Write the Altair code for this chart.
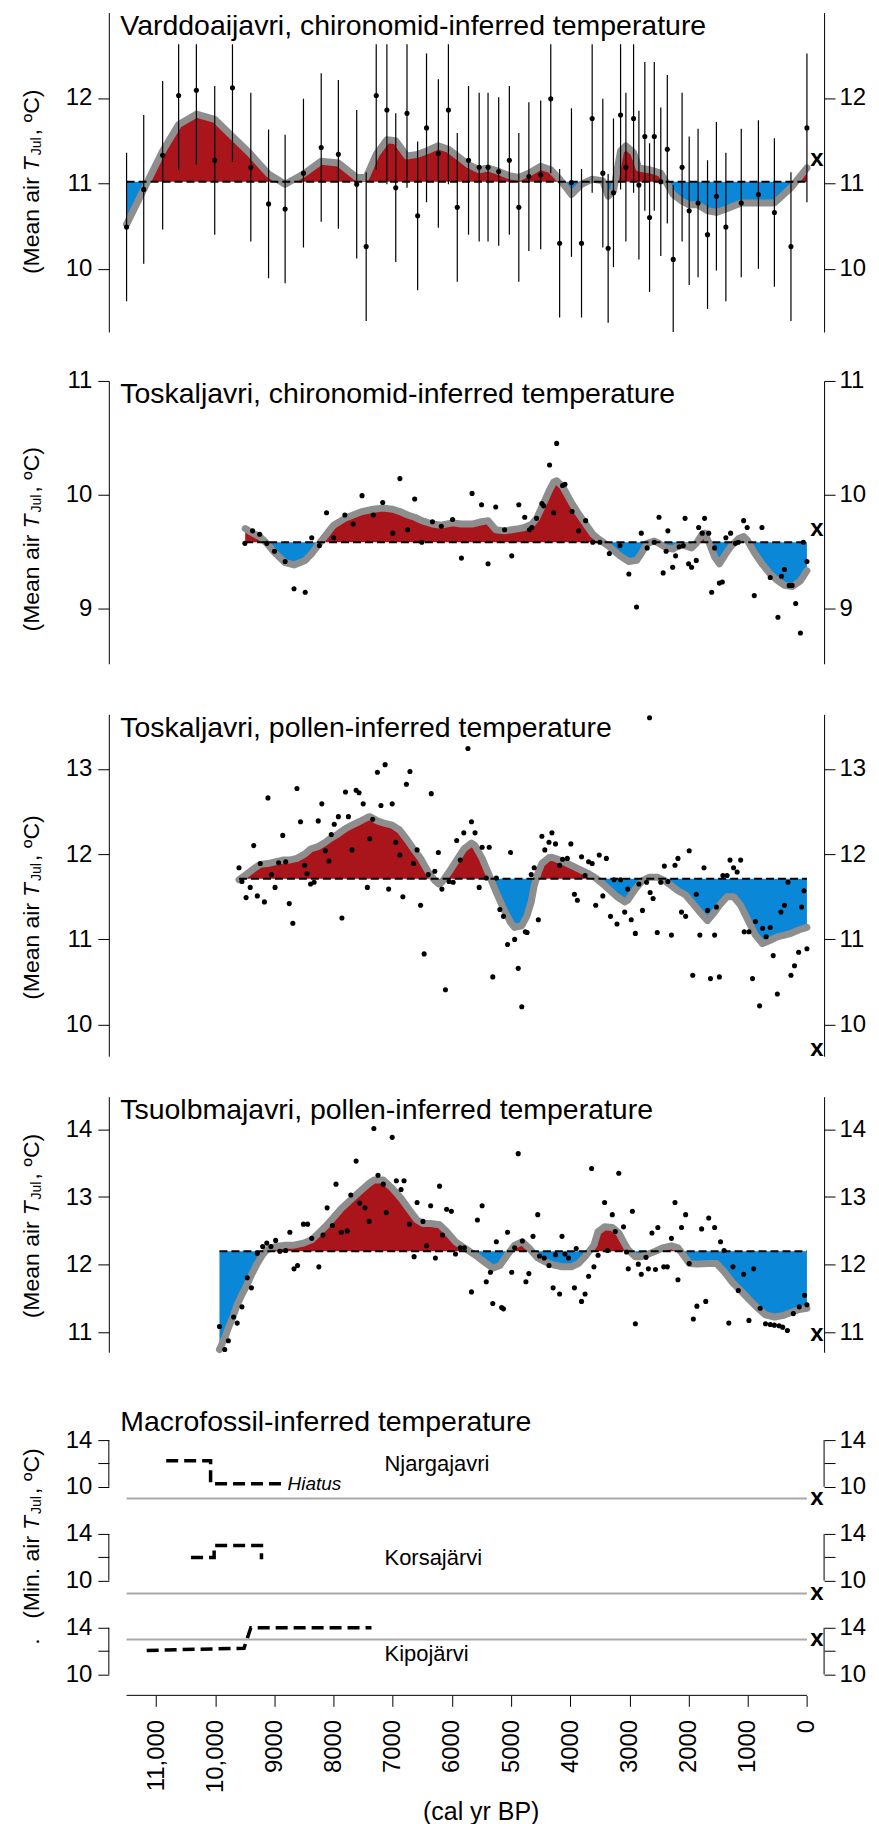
import altair as alt
import pandas as pd

FONT = "Liberation Sans, Arial, Helvetica, sans-serif"
RED = "#aa141b"
BLUE = "#0b87d8"
GRAY = "#8e8e8e"
LIGHTGRAY = "#a8a8a8"
W = 716.5
X_DOMAIN = [11800, -290]

# ---------------- Panel 1: Varddoaijavri chironomids ----------------
VARD_YEARS = [11500, 11210, 10890, 10620, 10320, 10010, 9710, 9400, 9100, 8820,
              8510, 8210, 7920, 7610, 7450, 7280, 7100, 6950, 6760, 6580,
              6430, 6230, 6060, 5910, 5720, 5540, 5390, 5210, 5030, 4870,
              4700, 4500, 4330, 4180, 3980, 3810, 3630, 3450, 3360, 3270,
              3150, 3060, 2930, 2840, 2740, 2660, 2580, 2470, 2360, 2260,
              2110, 1990, 1840, 1680, 1530, 1370, 1110, 820, 550, 270, 0]
VARD_TEMPS = [10.49, 10.93, 11.33, 12.03, 12.09, 11.27, 12.12, 11.19, 10.76, 10.70,
              11.12, 11.42, 11.34, 10.99, 10.26, 12.03, 11.86, 10.95, 11.82, 10.62,
              11.65, 11.35, 11.86, 10.72, 11.27, 11.19, 11.19, 11.14, 11.27, 10.72,
              11.08, 11.10, 11.99, 10.30, 11.01, 10.30, 11.76, 11.12, 10.24, 10.89,
              11.80, 11.19, 11.76, 10.98, 11.55, 10.60, 11.55, 11.02, 11.40, 10.11,
              11.19, 10.68, 10.77, 10.40, 10.85, 10.49, 10.77, 10.87, 10.66, 10.26, 11.65]
VARD_ERR = 0.87
VARD_ERR_TOP = 12.63
VARD_CURVE_YEARS = [11500, 11210, 10890, 10620, 10320, 10010, 9710, 9400, 9100, 8820,
                    8510, 8210, 7920, 7610, 7450, 7280, 7100, 6950, 6760, 6580,
                    6430, 6230, 6060, 5910, 5720, 5540, 5390, 5210, 5030, 4870,
                    4700, 4500, 4330, 4180, 3980, 3810, 3630, 3450, 3360, 3270,
                    3150, 3060, 2930, 2840, 2660, 2470, 2360, 2260, 2110, 1990,
                    1840, 1680, 1530, 1370, 1110, 820, 550, 270, 0]
VARD_CURVE_TEMPS = [10.52, 10.93, 11.38, 11.69, 11.81, 11.75, 11.55, 11.34, 11.11, 10.99,
                    11.11, 11.26, 11.24, 11.07, 11.07, 11.34, 11.51, 11.50, 11.32, 11.34,
                    11.38, 11.44, 11.40, 11.32, 11.22, 11.16, 11.18, 11.14, 11.09, 11.07,
                    11.12, 11.20, 11.16, 11.05, 10.87, 10.99, 11.05, 11.03, 10.85, 10.91,
                    11.38, 11.44, 11.36, 11.18, 11.16, 11.12, 10.99, 10.87, 10.79, 10.75,
                    10.75, 10.68, 10.66, 10.70, 10.77, 10.77, 10.77, 10.95, 11.18]
VARD_BASE = 11.02
VARD_MODERN = 11.28

# ---------------- Panel 2: Toskaljavri chironomids ----------------
TOSC_YEARS = [9500, 9370, 9250, 9130, 9000, 8820, 8670, 8480, 8370, 8240,
              8120, 8000, 7810, 7670, 7520, 7330, 7170, 7000, 6880, 6750,
              6630, 6510, 6330, 6180, 5990, 5840, 5660, 5500, 5390, 5260,
              5110, 4990, 4870, 4770, 4690, 4650, 4570, 4480, 4450, 4350,
              4280, 4230, 4130, 4090, 3970, 3860, 3740, 3620, 3500, 3340,
              3160, 3010, 2880, 2800, 2700, 2580, 2500, 2430, 2380, 2350,
              2270, 2220, 2160, 2090, 2060, 2000, 1950, 1870, 1830, 1770,
              1730, 1660, 1610, 1560, 1480, 1430, 1370, 1290, 1210, 1160,
              1070, 1010, 890, 760, 620, 490, 430, 380, 300, 250,
              190, 110, 60, 0]
TOSC_TEMPS = [9.57, 9.68, 9.65, 9.57, 9.50, 9.41, 9.17, 9.14, 9.62, 9.55,
              9.84, 9.62, 9.82, 9.74, 9.99, 9.82, 9.93, 9.66, 10.14, 9.69,
              9.96, 9.58, 9.76, 9.72, 9.78, 9.44, 10.01, 9.91, 9.39, 9.89,
              9.69, 9.46, 9.91, 9.80, 9.69, 9.71, 9.79, 9.92, 9.90, 10.26,
              9.84, 10.45, 10.08, 10.09, 9.85, 9.68, 9.77, 9.58, 9.58, 9.48,
              9.55, 9.30, 9.01, 9.66, 9.53, 9.58, 9.80, 9.31, 9.50, 9.68,
              9.36, 9.46, 9.54, 9.55, 9.79, 9.39, 9.36, 9.42, 9.71, 9.66,
              9.79, 9.66, 9.14, 9.53, 9.22, 9.23, 9.62, 9.66, 9.57, 9.58,
              9.77, 9.71, 9.11, 9.71, 9.27, 8.92, 9.28, 9.34, 9.20, 9.20,
              9.04, 8.78, 9.58, 9.41]
TOSC_CURVE_YEARS = [9495, 9370, 9250, 9130, 9000, 8820, 8670, 8480, 8370, 8240,
                    8120, 8000, 7810, 7670, 7520, 7330, 7170, 7000, 6880, 6750,
                    6630, 6510, 6330, 6180, 5990, 5840, 5660, 5500, 5390, 5260,
                    5110, 4990, 4870, 4770, 4650, 4570, 4480, 4350, 4280, 4230,
                    4130, 3970, 3860, 3740, 3620, 3500, 3340, 3160, 3010, 2880,
                    2800, 2700, 2580, 2500, 2380, 2270, 2160, 2060, 1950, 1870,
                    1770, 1730, 1650, 1560, 1480, 1370, 1290, 1160, 1070, 1010,
                    890, 760, 620, 490, 380, 250, 110, 0]
TOSC_CURVE_TEMPS = [9.70, 9.66, 9.63, 9.57, 9.49, 9.40, 9.38, 9.42, 9.48, 9.57,
                    9.65, 9.73, 9.79, 9.82, 9.85, 9.87, 9.88, 9.87, 9.85, 9.82,
                    9.80, 9.77, 9.74, 9.73, 9.75, 9.74, 9.74, 9.76, 9.77, 9.69,
                    9.68, 9.69, 9.70, 9.71, 9.74, 9.79, 9.89, 10.04, 10.11, 10.12,
                    10.07, 9.92, 9.83, 9.74, 9.65, 9.60, 9.54, 9.46, 9.41, 9.42,
                    9.48, 9.57, 9.59, 9.57, 9.53, 9.52, 9.55, 9.55, 9.53, 9.57,
                    9.65, 9.66, 9.57, 9.45, 9.39, 9.48, 9.54, 9.61, 9.63, 9.60,
                    9.49, 9.39, 9.30, 9.24, 9.20, 9.19, 9.24, 9.33]
TOSC_BASE = 9.58
TOSC_MODERN = 9.70

# ---------------- Panel 3: Toskaljavri pollen ----------------
TOSP_YEARS = [9600, 9550, 9480, 9410, 9350, 9290, 9240, 9170, 9110, 9050,
              8990, 8930, 8860, 8810, 8750, 8690, 8620, 8560, 8490, 8450,
              8390, 8330, 8260, 8200, 8140, 8080, 8040, 7990, 7920, 7860,
              7800, 7750, 7690, 7620, 7570, 7500, 7430, 7390, 7340, 7260,
              7200, 7130, 7070, 7010, 6950, 6880, 6830, 6770, 6710, 6650,
              6590, 6530, 6470, 6400, 6350, 6290, 6230, 6170, 6110, 6050,
              5980, 5920, 5860, 5800, 5730, 5670, 5610, 5540, 5490, 5420,
              5370, 5310, 5250, 5190, 5130, 5060, 5010, 4940, 4880, 4820,
              4760, 4730, 4660, 4610, 4540, 4480, 4430, 4360, 4310, 4250,
              4180, 4130, 4050, 3990, 3930, 3880, 3810, 3750, 3690, 3630,
              3570, 3510, 3450, 3390, 3320, 3260, 3210, 3150, 3080, 3030,
              2970, 2900, 2840, 2780, 2710, 2660, 2650, 2600, 2530, 2470,
              2410, 2350, 2290, 2230, 2180, 2120, 2050, 1990, 1930, 1870,
              1810, 1740, 1680, 1630, 1560, 1530, 1480, 1420, 1350, 1300,
              1240, 1180, 1120, 1060, 980, 920, 870, 800, 750, 690,
              620, 570, 500, 440, 380, 320, 270, 210, 140, 90,
              50, 0]
TOSP_TEMPS = [11.84, 11.68, 11.49, 11.61, 12.10, 11.51, 11.89, 11.44, 12.66, 11.76,
              11.61, 11.90, 12.22, 11.91, 11.42, 11.19, 12.77, 12.38, 11.87, 11.77,
              11.65, 11.67, 12.39, 12.59, 12.04, 11.92, 12.23, 12.35, 12.44, 11.25,
              12.73, 12.44, 12.05, 12.75, 12.72, 12.59, 11.61, 12.18, 12.41, 12.96,
              12.57, 13.05, 11.59, 12.59, 12.14, 11.99, 11.50, 12.82, 12.97, 11.89,
              12.05, 11.40, 10.83, 11.76, 12.71, 11.80, 12.02, 11.59, 10.41, 11.68,
              11.67, 12.16, 11.93, 12.25, 13.24, 12.38, 12.25, 11.61, 12.08, 11.72,
              12.08, 10.56, 11.72, 11.35, 11.27, 10.94, 12.02, 11.00, 10.66, 10.21,
              11.09, 11.08, 11.76, 11.84, 11.23, 12.21, 12.05, 12.14, 12.25, 12.12,
              11.87, 11.94, 11.95, 12.12, 11.53, 11.46, 11.97, 11.75, 11.91, 11.89,
              11.40, 11.99, 11.51, 11.95, 11.27, 11.70, 11.18, 11.70, 11.32, 11.59,
              11.23, 11.07, 11.65, 11.34, 11.67, 13.60, 11.55, 11.48, 11.08, 11.67,
              11.86, 11.68, 11.05, 11.87, 11.95, 11.32, 11.27, 12.04, 10.58, 11.53,
              11.05, 11.84, 11.34, 10.54, 11.05, 11.38, 10.56, 11.75, 11.75, 11.93,
              11.84, 11.79, 11.93, 11.09, 11.09, 10.54, 11.21, 10.22, 11.13, 11.03,
              11.14, 10.81, 10.36, 11.32, 11.40, 11.67, 10.58, 10.69, 10.85, 11.38,
              11.57, 10.89]
TOSP_CURVE_YEARS = [9600, 9480, 9350, 9240, 9110, 8990, 8860, 8750, 8620, 8490,
                    8390, 8260, 8140, 8040, 7920, 7800, 7690, 7570, 7430, 7390,
                    7260, 7130, 7010, 6880, 6770, 6650, 6530, 6400, 6290, 6220,
                    6170, 6050, 5920, 5800, 5670, 5610, 5490, 5370, 5250, 5130,
                    5010, 4940, 4820, 4730, 4660, 4610, 4540, 4480, 4360, 4300,
                    4180, 4050, 3930, 3810, 3690, 3570, 3450, 3320, 3210, 3080,
                    3030, 2900, 2780, 2660, 2530, 2410, 2290, 2180, 2050, 1930,
                    1810, 1680, 1560, 1480, 1350, 1240, 1120, 980, 870, 750,
                    620, 500, 380, 270, 140, 0]
TOSP_CURVE_TEMPS = [11.70, 11.76, 11.83, 11.88, 11.89, 11.91, 11.93, 11.93, 11.95, 12.00,
                    12.06, 12.09, 12.14, 12.19, 12.24, 12.30, 12.34, 12.38, 12.43, 12.44,
                    12.39, 12.36, 12.34, 12.28, 12.18, 12.06, 11.95, 11.79, 11.69, 11.65,
                    11.67, 11.79, 11.93, 12.06, 12.13, 12.10, 11.95, 11.75, 11.55, 11.36,
                    11.20, 11.14, 11.16, 11.28, 11.44, 11.63, 11.79, 11.89, 11.96, 11.96,
                    11.93, 11.89, 11.85, 11.81, 11.77, 11.72, 11.65, 11.57, 11.50, 11.44,
                    11.46, 11.59, 11.69, 11.73, 11.73, 11.69, 11.63, 11.57, 11.52, 11.42,
                    11.32, 11.22, 11.32, 11.40, 11.50, 11.50, 11.40, 11.20, 11.05, 10.95,
                    10.99, 11.03, 11.05, 11.07, 11.11, 11.14]
TOSP_BASE = 11.71
TOSP_MODERN = 9.71

# ---------------- Panel 4: Tsuolbmajavri pollen ----------------
TSUO_YEARS = [9930, 9840, 9780, 9690, 9630, 9550, 9460, 9390, 9290, 9200,
              9130, 9060, 8980, 8910, 8810, 8740, 8670, 8610, 8510, 8440,
              8370, 8250, 8180, 8110, 8020, 7960, 7870, 7770, 7710, 7620,
              7560, 7470, 7400, 7320, 7250, 7160, 7110, 7010, 6940, 6860,
              6810, 6720, 6640, 6590, 6490, 6430, 6360, 6280, 6210, 6160,
              6090, 6010, 5940, 5860, 5790, 5670, 5570, 5490, 5420, 5350,
              5310, 5250, 5160, 5130, 5060, 4990, 4940, 4880, 4810, 4750,
              4700, 4630, 4550, 4520, 4440, 4360, 4290, 4250, 4180, 4140,
              4090, 4030, 3930, 3900, 3810, 3750, 3690, 3640, 3600, 3530,
              3420, 3370, 3290, 3240, 3180, 3100, 3050, 3020, 2950, 2900,
              2850, 2800, 2720, 2680, 2620, 2560, 2520, 2420, 2360, 2290,
              2230, 2180, 2120, 2050, 1990, 1920, 1860, 1780, 1710, 1660,
              1560, 1460, 1400, 1320, 1250, 1160, 1070, 980, 900, 790,
              700, 620, 550, 470, 410, 330, 230, 130, 40, 0]
TSUO_TEMPS = [11.09, 10.75, 10.88, 11.23, 11.14, 11.38, 11.81, 11.66, 12.17, 12.27,
              12.32, 12.27, 12.36, 12.20, 12.21, 12.48, 11.94, 11.99, 12.60, 12.60,
              12.39, 11.97, 12.44, 12.84, 12.58, 13.19, 12.48, 12.50, 13.03, 13.53,
              12.91, 12.84, 12.64, 14.01, 13.32, 13.19, 12.77, 13.88, 13.24, 13.11,
              13.24, 12.60, 12.12, 12.92, 12.64, 12.28, 12.87, 12.10, 13.16, 12.44,
              12.82, 12.79, 12.16, 12.25, 12.25, 11.60, 12.66, 12.87, 11.75, 11.89,
              11.43, 12.34, 11.37, 11.35, 12.48, 11.89, 12.25, 13.64, 12.35, 11.75,
              11.87, 12.42, 12.74, 12.13, 12.10, 11.99, 11.66, 12.15, 11.57, 12.42,
              12.16, 12.10, 11.66, 12.24, 11.46, 11.57, 11.83, 13.42, 11.97, 12.14,
              12.92, 12.21, 12.74, 12.49, 13.35, 12.56, 12.19, 11.94, 12.79, 11.13,
              12.01, 11.86, 12.11, 11.94, 12.47, 11.93, 12.55, 11.97, 11.97, 12.39,
              12.92, 11.78, 12.55, 12.74, 12.02, 11.20, 11.39, 12.53, 11.46, 12.69,
              12.55, 12.34, 12.21, 11.14, 11.97, 11.62, 11.86, 11.18, 11.94, 11.36,
              11.13, 11.12, 11.11, 11.10, 11.08, 11.03, 11.28, 11.38, 11.55, 11.41]
TSUO_CURVE_YEARS = [9930, 9840, 9780, 9690, 9630, 9550, 9460, 9390, 9290, 9200,
                    9130, 8980, 8810, 8670, 8510, 8370, 8250, 8110, 7960, 7870,
                    7710, 7560, 7400, 7320, 7160, 7010, 6860, 6720, 6590, 6490,
                    6360, 6210, 6090, 5940, 5790, 5570, 5420, 5310, 5190, 5060,
                    4940, 4810, 4700, 4550, 4440, 4290, 4140, 3980, 3860, 3750,
                    3600, 3530, 3420, 3290, 3180, 3100, 3020, 2900, 2800, 2680,
                    2560, 2440, 2290, 2180, 2050, 1990, 1860, 1660, 1530, 1400,
                    1250, 1110, 980, 830, 700, 550, 410, 260, 130, 0]
TSUO_CURVE_TEMPS = [10.75, 10.92, 11.07, 11.26, 11.41, 11.56, 11.71, 11.85, 12.02, 12.15,
                    12.22, 12.27, 12.29, 12.29, 12.32, 12.37, 12.47, 12.59, 12.74, 12.83,
                    12.96, 13.08, 13.20, 13.25, 13.25, 13.13, 12.98, 12.81, 12.66, 12.61,
                    12.61, 12.59, 12.49, 12.34, 12.25, 12.12, 12.02, 11.95, 11.99, 12.15,
                    12.29, 12.34, 12.25, 12.10, 12.05, 12.00, 11.97, 11.97, 12.02, 12.12,
                    12.29, 12.49, 12.56, 12.55, 12.47, 12.34, 12.22, 12.12, 12.12, 12.16,
                    12.20, 12.25, 12.28, 12.25, 12.10, 12.02, 12.01, 12.02, 12.02, 11.90,
                    11.73, 11.61, 11.49, 11.36, 11.26, 11.23, 11.25, 11.30, 11.34, 11.36]
TSUO_BASE = 12.20
TSUO_MODERN = 10.98

# ---------------- Panel 5: macrofossil minimum temperatures ----------------
NJAR_YEARS = [10830, 10080, 10080, 8870]
NJAR_TEMPS = [12.24, 12.24, 10.27, 10.27]
KORS_YEARS = [10410, 10020, 10020, 9220, 9220, 9190]
KORS_TEMPS = [11.99, 11.99, 13.00, 13.00, 11.99, 11.99]
KIPO_YEARS = [11160, 9515, 9400, 7360]
KIPO_TEMPS = [12.06, 12.25, 14.00, 14.00]
MODERN_MIN = [9.0, 8.9, 13.0]
SITE_NAMES = ["Njargajavri", "Korsajärvi", "Kipojärvi"]
SITE_LABEL_T = [11.95, 11.95, 11.75]

ONE = pd.DataFrame({"k": [0]})
XS = alt.Scale(domain=X_DOMAIN, nice=False, zero=False)


def yaxis(orient, ticks, label_expr=None, domain=True):
    kw = dict(orient=orient, values=ticks, title=None, grid=False, tickSize=11,
              tickWidth=1, tickColor="black", domain=domain, domainColor="black",
              domainWidth=1, labelFont=FONT, labelFontSize=24, labelColor="black",
              labelPadding=6 if orient == "left" else 4, labelFlush=False,
              labelOverlap=False)
    if label_expr:
        kw["labelExpr"] = label_expr
    return alt.Axis(**kw)


def ytitle_layers(s, first, extra_dot=False):
    fs = 23
    xb = -70
    wfirst = {"(Mean air": 4.223 * fs, "(Min. air": 3.611 * fs}[first]
    t_pos = s - wfirst - 6
    jul_pos = t_pos - 16
    comma_pos = jul_pos - 20
    c_pos = comma_pos - 13
    pieces = [(first, s, xb, fs, "normal"), ("T", t_pos, xb, fs, "italic"),
              ("Jul", jul_pos, xb + 2, 14, "normal"), (",", comma_pos, xb, fs, "normal"),
              ("ºC)", c_pos, xb, fs, "normal")]
    if extra_dot:
        pieces.append((".", s + 26, xb, fs, "normal"))
    layers = []
    for txt, ypos, xpos, size, style in pieces:
        layers.append(
            alt.Chart(ONE).mark_text(angle=270, align="left", baseline="alphabetic",
                                     font=FONT, fontSize=size, fontStyle=style, color="black")
            .encode(x=alt.value(xpos), y=alt.value(ypos), text=alt.value(txt)))
    return layers


def fill_frame(years, temps, base):
    rows = []
    for i in range(len(years)):
        rows.append((years[i], temps[i]))
        if i + 1 < len(years):
            d0, d1 = temps[i] - base, temps[i + 1] - base
            if d0 * d1 < 0:
                f = d0 / (d0 - d1)
                rows.append((years[i] + f * (years[i + 1] - years[i]), base))
    df = pd.DataFrame(rows, columns=["year", "t"])
    df["hi"] = df["t"].clip(lower=base)
    df["lo"] = df["t"].clip(upper=base)
    df["base"] = base
    return df


def text_title(title):
    return alt.Chart(ONE).mark_text(align="left", baseline="alphabetic", font=FONT,
                                    fontSize=28.5, color="black").encode(
        x=alt.value(11.5), y=alt.value(22.5), text=alt.value(title))


def temp_panel(title, pyears, ptemps, cyears, ctemps, base, ydom, ticks, height,
               modern, s_rel, err=None):
    ys = alt.Scale(domain=ydom, nice=False, zero=False)
    fill = fill_frame(cyears, ctemps, base)
    curve = pd.DataFrame({"year": cyears, "t": ctemps})
    pts = pd.DataFrame({"year": pyears, "t": ptemps})

    def X(f):
        return alt.X(f, scale=XS, axis=None)

    red = alt.Chart(fill).mark_area(color=RED, opacity=1).encode(
        x=X("year:Q"), y=alt.Y("hi:Q", scale=ys, axis=None), y2=alt.Y2("base:Q"))
    blue = alt.Chart(fill).mark_area(color=BLUE, opacity=1).encode(
        x=X("year:Q"), y=alt.Y("lo:Q", scale=ys, axis=None), y2=alt.Y2("base:Q"))
    line = alt.Chart(curve).mark_line(color=GRAY, strokeWidth=7, strokeJoin="round",
                                      strokeCap="round").encode(
        x=X("year:Q"), y=alt.Y("t:Q", scale=ys, axis=yaxis("left", ticks)))
    dashed = alt.Chart(ONE).mark_rule(color="black", strokeWidth=2, strokeDash=[8, 4]).encode(
        x=alt.XDatum(cyears[0], scale=XS, axis=None), x2=alt.X2Datum(0),
        y=alt.YDatum(base, scale=ys, axis=None))
    layers = [red, blue, line, dashed]
    if err is not None:
        eb = pts.copy()
        eb["lo"] = eb["t"] - err
        eb["hi"] = (eb["t"] + err).clip(upper=VARD_ERR_TOP)
        layers.append(alt.Chart(eb).mark_rule(color="black", strokeWidth=1.2, clip=True).encode(
            x=X("year:Q"), y=alt.Y("lo:Q", scale=ys, axis=None), y2=alt.Y2("hi:Q")))
    dots = alt.Chart(pts).mark_circle(size=26, color="black", opacity=1).encode(
        x=X("year:Q"), y=alt.Y("t:Q", scale=ys, axis=yaxis("right", ticks)))
    xmark = alt.Chart(ONE).mark_text(text="x", font=FONT, fontWeight="bold", fontSize=24,
                                     baseline="middle", align="center", color="black").encode(
        x=alt.XDatum(-170, scale=XS, axis=None), y=alt.YDatum(modern, scale=ys, axis=None))
    layers += [dots, text_title(title), xmark] + ytitle_layers(s_rel, "(Mean air")
    return alt.layer(*layers).resolve_axis(y="independent").properties(width=W, height=height)


def macro_panel(idx, years, temps, ydom, height, title=None, xaxis=False, hiatus=False,
                ytitle=None):
    ys = alt.Scale(domain=ydom, nice=False, zero=False)
    df = pd.DataFrame({"year": years, "t": temps, "o": list(range(len(years)))})
    if xaxis:
        xax = alt.Axis(values=list(range(0, 12000, 1000)), labelAngle=270,
                       labelExpr="datum.value >= 10000 ? format(datum.value, ',') : format(datum.value, 'd')",
                       tickSize=11, tickColor="black", tickWidth=1, labelPadding=13,
                       labelFont=FONT, labelFontSize=24, labelColor="black", labelAlign="right",
                       labelBaseline="middle", labelFlush=False, labelOverlap=False,
                       domain=False, grid=False, title="(cal yr BP)", titleFont=FONT,
                       titleFontSize=25, titleFontWeight="normal", titleColor="black",
                       titleX=372.5, titleY=124, titleBaseline="alphabetic", titleAlign="center")
    else:
        xax = None
    modern = alt.Chart(ONE).mark_rule(color=LIGHTGRAY, strokeWidth=2).encode(
        x=alt.XDatum(11500, scale=XS, axis=None), x2=alt.X2Datum(0),
        y=alt.YDatum(MODERN_MIN[idx], scale=ys, axis=None))
    step = alt.Chart(df).mark_line(color="black", strokeWidth=3.5, strokeDash=[12, 6],
                                   strokeCap="butt").encode(
        x=alt.X("year:Q", scale=XS, axis=xax),
        y=alt.Y("t:Q", scale=ys, axis=yaxis("left", [10, 12, 14],
                                             "datum.value == 12 ? '' : datum.label", False)),
        order="o:Q")
    lrule = alt.Chart(ONE).mark_rule(color="black", strokeWidth=1).encode(
        x=alt.value(0), y=alt.YDatum(10, scale=ys, axis=None), y2=alt.Y2Datum(14))
    rrule = alt.Chart(ONE).mark_rule(color="black", strokeWidth=1).encode(
        x=alt.value(W), y=alt.YDatum(10, scale=ys, axis=None), y2=alt.Y2Datum(14))
    label = alt.Chart(ONE).mark_text(align="left", baseline="middle", font=FONT, fontSize=22,
                                     color="black").encode(
        x=alt.XDatum(7140, scale=XS, axis=None), y=alt.YDatum(SITE_LABEL_T[idx], scale=ys, axis=None),
        text=alt.value(SITE_NAMES[idx]))
    xmark = alt.Chart(ONE).mark_text(text="x", font=FONT, fontWeight="bold", fontSize=24,
                                     baseline="middle", align="center", color="black").encode(
        x=alt.XDatum(-170, scale=XS, axis=None),
        y=alt.YDatum(MODERN_MIN[idx], scale=ys,
                     axis=yaxis("right", [10, 12, 14], "datum.value == 12 ? '' : datum.label", False)))
    layers = [step, modern, lrule, rrule, label, xmark]
    if xaxis:
        layers.append(alt.Chart(ONE).mark_rule(color="black", strokeWidth=1).encode(
            x=alt.XDatum(11500, scale=XS, axis=None), x2=alt.X2Datum(0), y=alt.value(height)))
    if hiatus:
        layers.append(alt.Chart(ONE).mark_text(align="left", baseline="middle", font=FONT,
                                               fontSize=19, fontStyle="italic", color="black").encode(
            x=alt.XDatum(8780, scale=XS, axis=None), y=alt.YDatum(10.27, scale=ys, axis=None),
            text=alt.value("Hiatus")))
    if title:
        layers.append(text_title(title))
    if ytitle is not None:
        layers += ytitle_layers(ytitle, "(Min. air", extra_dot=True)
    return alt.layer(*layers).resolve_axis(y="independent", x="independent").properties(
        width=W, height=height)


def spacer(h):
    return alt.Chart(ONE).mark_point(opacity=0).encode(
        x=alt.X("k:Q", axis=None), y=alt.Y("k:Q", axis=None)).properties(width=W, height=h)


p1 = temp_panel("Varddoaijavri, chironomid-inferred temperature", VARD_YEARS, VARD_TEMPS,
                VARD_CURVE_YEARS, VARD_CURVE_TEMPS, VARD_BASE, [9.26, 13.0], [10, 11, 12],
                320, VARD_MODERN, 262, err=VARD_ERR)
p2 = temp_panel("Toskaljavri, chironomid-inferred temperature", TOSC_YEARS, TOSC_TEMPS,
                TOSC_CURVE_YEARS, TOSC_CURVE_TEMPS, TOSC_BASE, [8.51, 11.0], [9, 10, 11],
                283.3, TOSC_MODERN, 251)
p3 = temp_panel("Toskaljavri, pollen-inferred temperature", TOSP_YEARS, TOSP_TEMPS,
                TOSP_CURVE_YEARS, TOSP_CURVE_TEMPS, TOSP_BASE, [9.63, 13.64], [10, 11, 12, 13],
                342.4, TOSP_MODERN, 286)
p4 = temp_panel("Tsuolbmajavri, pollen-inferred temperature", TSUO_YEARS, TSUO_TEMPS,
                TSUO_CURVE_YEARS, TSUO_CURVE_TEMPS, TSUO_BASE, [10.71, 14.48], [11, 12, 13, 14],
                256, TSUO_MODERN, 222)
m1 = macro_panel(0, NJAR_YEARS, NJAR_TEMPS, [8.53, 16.735], 96,
                 title="Macrofossil-inferred temperature", hiatus=True)
m2 = macro_panel(1, KORS_YEARS, KORS_TEMPS, [8.53, 16.564], 94, ytitle=115)
m3 = macro_panel(2, KIPO_YEARS, KIPO_TEMPS, [8.214, 16.564], 97.7, xaxis=True)

chart = alt.vconcat(p1, spacer(48.7), p2, spacer(49.3), p3, spacer(40), p4, spacer(55.3),
                    m1, m2, m3, spacing=0, bounds="flush").properties(
    padding={"left": 12, "top": 2, "right": 5, "bottom": 5}
).configure(background="white").configure_view(strokeWidth=0, strokeOpacity=0)

chart.save("out.html", embed_options={"renderer": "svg", "actions": False})
